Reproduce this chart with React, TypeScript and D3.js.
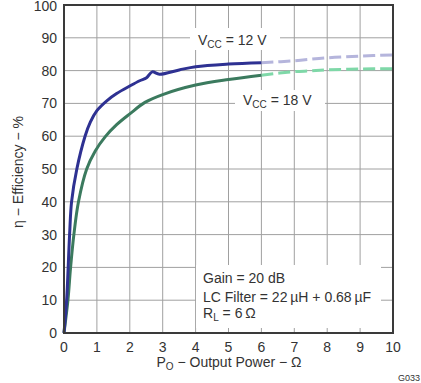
import React from "react";
import * as d3 from "d3";

const xTicks = [0, 1, 2, 3, 4, 5, 6, 7, 8, 9, 10];
const yTicks = [0, 10, 20, 30, 40, 50, 60, 70, 80, 90, 100];

const v12X = [0, 0.08, 0.17, 0.23, 0.39, 0.64, 0.8, 1, 1.3, 1.6, 2, 2.3, 2.51, 2.68, 2.9, 3.5, 4, 5, 6];
const v12Y = [0, 10, 30, 40, 50, 60, 64.3, 67.8, 70.8, 73, 75.3, 76.9, 77.8, 79.6, 78.9, 80.2, 81.2, 82.0, 82.4];
const v12DashX = [6, 7, 8, 9, 10];
const v12DashY = [82.4, 83.0, 83.9, 84.4, 84.8];

const v18X = [0, 0.12, 0.2, 0.3, 0.44, 0.69, 0.95, 1.25, 1.6, 2, 2.46, 3, 4, 5, 6];
const v18Y = [0, 10, 20, 30, 40, 50, 55.5, 59.8, 63.5, 66.8, 70.3, 72.7, 75.6, 77.3, 78.6];
const v18DashX = [6, 7, 7.5, 8, 9, 10];
const v18DashY = [78.6, 79.7, 79.9, 80.2, 80.5, 80.6];

const W = 421;
const H = 383;
const FONT = "Liberation Sans, Arial, sans-serif";

export default function App() {
  const x = d3.scaleLinear().domain([0, 10]).range([64, 393]);
  const y = d3.scaleLinear().domain([0, 100]).range([333, 5]);
  const line = (xs: number[], ys: number[]) =>
    d3
      .line<number>()
      .x((_, i) => x(xs[i]))
      .y((d) => y(d))
      .curve(d3.curveCatmullRom.alpha(0.5))(ys) || "";

  return (
    <svg width={W} height={H} style={{ position: "absolute", left: 0, top: 0 }} fontFamily={FONT}>
      <rect x={0} y={0} width={W} height={H} fill="#fff" />
      {xTicks.map((t) => (
        <line key={"gx" + t} x1={x(t)} x2={x(t)} y1={y(0)} y2={y(100)} stroke="#a0a0a0" strokeWidth={1} />
      ))}
      {yTicks.map((t) => (
        <line key={"gy" + t} x1={x(0)} x2={x(10)} y1={y(t)} y2={y(t)} stroke="#a0a0a0" strokeWidth={1} />
      ))}
      {/* white label backgrounds */}
      <rect x={190} y={28} width={90} height={22} fill="#fff" />
      <rect x={235} y={90} width={90} height={21} fill="#fff" />
      <rect x={196} y={265} width={185} height={63} fill="#fff" />

      <path d={line(v12DashX, v12DashY)} fill="none" stroke="#b5b5dc" strokeWidth={3} strokeDasharray="12,5" />
      <path d={line(v18DashX, v18DashY)} fill="none" stroke="#7fd8a8" strokeWidth={3} strokeDasharray="12,5" />
      <path d={line(v18X, v18Y)} fill="none" stroke="#3b7a5e" strokeWidth={3} />
      <path d={line(v12X, v12Y)} fill="none" stroke="#2e3192" strokeWidth={3} />

      <rect x={x(0)} y={y(100)} width={x(10) - x(0)} height={y(0) - y(100)} fill="none" stroke="#3a3a3a" strokeWidth={2} />

      {yTicks.map((t) => (
        <text key={"ty" + t} x={57} y={t === 100 ? y(t) + 1.5 : y(t)} dy="0.35em" textAnchor="end" fontSize={14} fill="#333">
          {t}
        </text>
      ))}
      {xTicks.map((t) => (
        <text key={"tx" + t} x={x(t)} y={352} textAnchor="middle" fontSize={14} fill="#333">
          {t}
        </text>
      ))}

      <text x={229} y={367} textAnchor="middle" fontSize={14} fill="#333">
        P<tspan fontSize={10} dy={3}>O</tspan>
        <tspan dy={-3}> − Output Power − Ω</tspan>
      </text>
      <text transform="translate(23,172) rotate(-90)" textAnchor="middle" fontSize={14} fill="#333">
        η − Efficiency − %
      </text>
      <text x={420} y={381} textAnchor="end" fontSize={9} fill="#333">
        G033
      </text>

      <text x={198} y={45} fontSize={14} fill="#333">
        V<tspan fontSize={10} dy={3}>CC</tspan>
        <tspan dy={-3}> = 12 V</tspan>
      </text>
      <text x={243} y={105} fontSize={14} fill="#333">
        V<tspan fontSize={10} dy={3}>CC</tspan>
        <tspan dy={-3}> = 18 V</tspan>
      </text>

      <text x={203} y={283} fontSize={14} fill="#333">
        Gain = 20 dB
      </text>
      <text x={203} y={302} fontSize={14} fill="#333">
        LC Filter = 22{"\u2009"}µH + 0.68{"\u2009"}µF
      </text>
      <text x={203} y={318} fontSize={14} fill="#333">
        R<tspan fontSize={10} dy={3}>L</tspan>
        <tspan dy={-3}> = 6{"\u2009"}Ω</tspan>
      </text>
    </svg>
  );
}
